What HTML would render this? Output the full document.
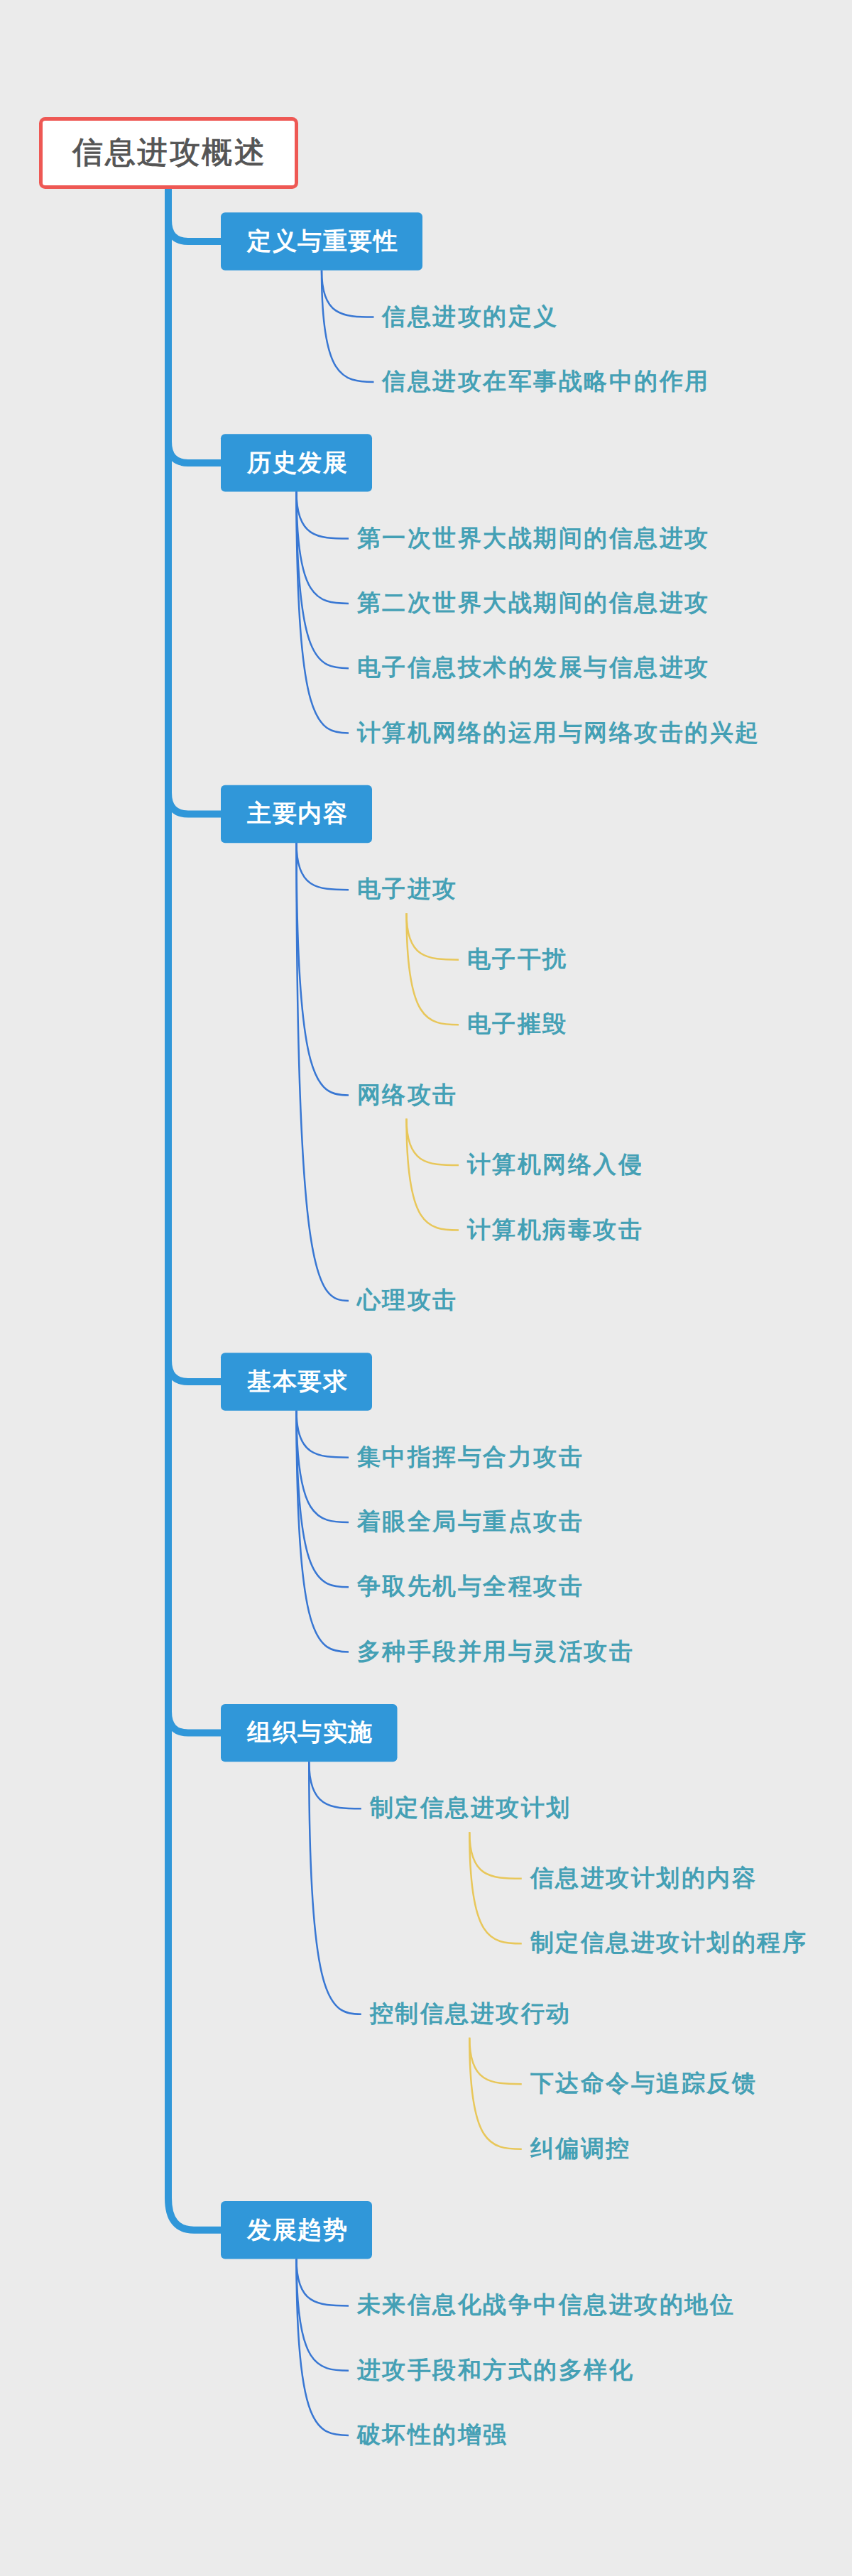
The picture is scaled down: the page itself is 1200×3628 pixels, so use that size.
<!DOCTYPE html>
<html><head><meta charset="utf-8"><style>
html,body{margin:0;padding:0;}
body{width:1200px;height:3628px;background:#ebebeb;position:relative;overflow:hidden;font-family:"Liberation Sans",sans-serif;}
svg{position:absolute;left:0;top:0;}
.t{position:absolute;white-space:nowrap;}
.c{text-align:center;}
</style></head><body>
<svg width="1200" height="3628" viewBox="0 0 1200 3628">
<path d="M237 266 L237 3095.7 Q237 3140.7 273 3140.7 L316 3140.7" stroke="#3097d9" stroke-width="10" fill="none"/>
<path d="M237 310 Q237 340 265 340 L316 340" stroke="#3097d9" stroke-width="10" fill="none"/>
<path d="M237 621.9 Q237 651.9 265 651.9 L316 651.9" stroke="#3097d9" stroke-width="10" fill="none"/>
<path d="M237 1116.5 Q237 1146.5 265 1146.5 L316 1146.5" stroke="#3097d9" stroke-width="10" fill="none"/>
<path d="M237 1916 Q237 1946 265 1946 L316 1946" stroke="#3097d9" stroke-width="10" fill="none"/>
<path d="M237 2410.6 Q237 2440.6 265 2440.6 L316 2440.6" stroke="#3097d9" stroke-width="10" fill="none"/>
<rect x="57.5" y="167.5" width="360" height="96" rx="6" fill="#fff" stroke="#ee5854" stroke-width="5"/>
<rect x="311" y="299.3" width="284.0" height="81.4" rx="6" fill="#3097d9"/>
<path d="M453.0 380.7 C453.0 443.96 481.67 446.6 526.5 446.6" stroke="#3877d3" stroke-width="2.5" fill="none"/>
<path d="M453.0 380.7 C453.0 531.61 481.67 537.9 526.5 537.9" stroke="#3877d3" stroke-width="2.5" fill="none"/>
<rect x="311" y="611.1999999999999" width="213.0" height="81.4" rx="6" fill="#3097d9"/>
<path d="M417.5 692.6 C417.5 755.96 446.17 758.6 491.0 758.6" stroke="#3877d3" stroke-width="2.5" fill="none"/>
<path d="M417.5 692.6 C417.5 843.61 446.17 849.9 491.0 849.9" stroke="#3877d3" stroke-width="2.5" fill="none"/>
<path d="M417.5 692.6 C417.5 931.26 446.17 941.2 491.0 941.2" stroke="#3877d3" stroke-width="2.5" fill="none"/>
<path d="M417.5 692.6 C417.5 1018.9 446.17 1032.5 491.0 1032.5" stroke="#3877d3" stroke-width="2.5" fill="none"/>
<rect x="311" y="1105.8" width="213.0" height="81.4" rx="6" fill="#3097d9"/>
<path d="M417.5 1187.2 C417.5 1250.56 446.17 1253.2 491.0 1253.2" stroke="#3877d3" stroke-width="2.5" fill="none"/>
<path d="M572.5 1286.2 C572.5 1349.08 601.16 1351.7 646.0 1351.7" stroke="#e8c75a" stroke-width="2.5" fill="none"/>
<path d="M572.5 1286.2 C572.5 1436.92 601.16 1443.2 646.0 1443.2" stroke="#e8c75a" stroke-width="2.5" fill="none"/>
<path d="M417.5 1187.2 C417.5 1528.38 446.17 1542.6 491.0 1542.6" stroke="#3877d3" stroke-width="2.5" fill="none"/>
<path d="M572.5 1575.6 C572.5 1638.48 601.16 1641.1 646.0 1641.1" stroke="#e8c75a" stroke-width="2.5" fill="none"/>
<path d="M572.5 1575.6 C572.5 1726.32 601.16 1732.6 646.0 1732.6" stroke="#e8c75a" stroke-width="2.5" fill="none"/>
<path d="M417.5 1187.2 C417.5 1806.21 446.17 1832.0 491.0 1832.0" stroke="#3877d3" stroke-width="2.5" fill="none"/>
<rect x="311" y="1905.3" width="213.0" height="81.4" rx="6" fill="#3097d9"/>
<path d="M417.5 1986.7 C417.5 2050.06 446.17 2052.7 491.0 2052.7" stroke="#3877d3" stroke-width="2.5" fill="none"/>
<path d="M417.5 1986.7 C417.5 2137.71 446.17 2144 491.0 2144" stroke="#3877d3" stroke-width="2.5" fill="none"/>
<path d="M417.5 1986.7 C417.5 2225.36 446.17 2235.3 491.0 2235.3" stroke="#3877d3" stroke-width="2.5" fill="none"/>
<path d="M417.5 1986.7 C417.5 2313.0 446.17 2326.6 491.0 2326.6" stroke="#3877d3" stroke-width="2.5" fill="none"/>
<rect x="311" y="2399.9" width="248.5" height="81.4" rx="6" fill="#3097d9"/>
<path d="M435.25 2481.3 C435.25 2544.66 463.92 2547.3 508.75 2547.3" stroke="#3877d3" stroke-width="2.5" fill="none"/>
<path d="M661.25 2580.3 C661.25 2643.18 689.91 2645.8 734.75 2645.8" stroke="#e8c75a" stroke-width="2.5" fill="none"/>
<path d="M661.25 2580.3 C661.25 2731.02 689.91 2737.3 734.75 2737.3" stroke="#e8c75a" stroke-width="2.5" fill="none"/>
<path d="M435.25 2481.3 C435.25 2822.48 463.92 2836.7 508.75 2836.7" stroke="#3877d3" stroke-width="2.5" fill="none"/>
<path d="M661.25 2869.7 C661.25 2932.58 689.91 2935.2 734.75 2935.2" stroke="#e8c75a" stroke-width="2.5" fill="none"/>
<path d="M661.25 2869.7 C661.25 3020.42 689.91 3026.7 734.75 3026.7" stroke="#e8c75a" stroke-width="2.5" fill="none"/>
<rect x="311" y="3100.0" width="213.0" height="81.4" rx="6" fill="#3097d9"/>
<path d="M417.5 3181.4 C417.5 3244.76 446.17 3247.4 491.0 3247.4" stroke="#3877d3" stroke-width="2.5" fill="none"/>
<path d="M417.5 3181.4 C417.5 3332.41 446.17 3338.7 491.0 3338.7" stroke="#3877d3" stroke-width="2.5" fill="none"/>
<path d="M417.5 3181.4 C417.5 3420.06 446.17 3430 491.0 3430" stroke="#3877d3" stroke-width="2.5" fill="none"/>
</svg>
<div class="t c" style="left:56.25px;top:164px;width:365px;height:101px;line-height:101px;font-size:43px;letter-spacing:2.5px;color:#555555;-webkit-text-stroke:1.0px #555555">信息进攻概述</div>
<div class="t c" style="left:312.75px;top:298.8px;width:284.0px;height:81.4px;line-height:81.4px;font-size:34px;letter-spacing:1.5px;color:#fff;font-weight:bold">定义与重要性</div>
<div class="t" style="left:538.3px;top:420.6px;height:50px;line-height:50px;font-size:33px;letter-spacing:2.5px;color:#44a0b5;font-weight:bold">信息进攻的定义</div>
<div class="t" style="left:538.3px;top:511.9px;height:50px;line-height:50px;font-size:33px;letter-spacing:2.5px;color:#44a0b5;font-weight:bold">信息进攻在军事战略中的作用</div>
<div class="t c" style="left:312.75px;top:610.6999999999999px;width:213.0px;height:81.4px;line-height:81.4px;font-size:34px;letter-spacing:1.5px;color:#fff;font-weight:bold">历史发展</div>
<div class="t" style="left:502.8px;top:732.6px;height:50px;line-height:50px;font-size:33px;letter-spacing:2.5px;color:#44a0b5;font-weight:bold">第一次世界大战期间的信息进攻</div>
<div class="t" style="left:502.8px;top:823.9px;height:50px;line-height:50px;font-size:33px;letter-spacing:2.5px;color:#44a0b5;font-weight:bold">第二次世界大战期间的信息进攻</div>
<div class="t" style="left:502.8px;top:915.2px;height:50px;line-height:50px;font-size:33px;letter-spacing:2.5px;color:#44a0b5;font-weight:bold">电子信息技术的发展与信息进攻</div>
<div class="t" style="left:502.8px;top:1006.5px;height:50px;line-height:50px;font-size:33px;letter-spacing:2.5px;color:#44a0b5;font-weight:bold">计算机网络的运用与网络攻击的兴起</div>
<div class="t c" style="left:312.75px;top:1105.3px;width:213.0px;height:81.4px;line-height:81.4px;font-size:34px;letter-spacing:1.5px;color:#fff;font-weight:bold">主要内容</div>
<div class="t" style="left:502.8px;top:1227.2px;height:50px;line-height:50px;font-size:33px;letter-spacing:2.5px;color:#44a0b5;font-weight:bold">电子进攻</div>
<div class="t" style="left:657.8px;top:1325.7px;height:50px;line-height:50px;font-size:33px;letter-spacing:2.5px;color:#44a0b5;font-weight:bold">电子干扰</div>
<div class="t" style="left:657.8px;top:1417.2px;height:50px;line-height:50px;font-size:33px;letter-spacing:2.5px;color:#44a0b5;font-weight:bold">电子摧毁</div>
<div class="t" style="left:502.8px;top:1516.6px;height:50px;line-height:50px;font-size:33px;letter-spacing:2.5px;color:#44a0b5;font-weight:bold">网络攻击</div>
<div class="t" style="left:657.8px;top:1615.1px;height:50px;line-height:50px;font-size:33px;letter-spacing:2.5px;color:#44a0b5;font-weight:bold">计算机网络入侵</div>
<div class="t" style="left:657.8px;top:1706.6px;height:50px;line-height:50px;font-size:33px;letter-spacing:2.5px;color:#44a0b5;font-weight:bold">计算机病毒攻击</div>
<div class="t" style="left:502.8px;top:1806.0px;height:50px;line-height:50px;font-size:33px;letter-spacing:2.5px;color:#44a0b5;font-weight:bold">心理攻击</div>
<div class="t c" style="left:312.75px;top:1904.8px;width:213.0px;height:81.4px;line-height:81.4px;font-size:34px;letter-spacing:1.5px;color:#fff;font-weight:bold">基本要求</div>
<div class="t" style="left:502.8px;top:2026.6999999999998px;height:50px;line-height:50px;font-size:33px;letter-spacing:2.5px;color:#44a0b5;font-weight:bold">集中指挥与合力攻击</div>
<div class="t" style="left:502.8px;top:2118.0px;height:50px;line-height:50px;font-size:33px;letter-spacing:2.5px;color:#44a0b5;font-weight:bold">着眼全局与重点攻击</div>
<div class="t" style="left:502.8px;top:2209.3px;height:50px;line-height:50px;font-size:33px;letter-spacing:2.5px;color:#44a0b5;font-weight:bold">争取先机与全程攻击</div>
<div class="t" style="left:502.8px;top:2300.6px;height:50px;line-height:50px;font-size:33px;letter-spacing:2.5px;color:#44a0b5;font-weight:bold">多种手段并用与灵活攻击</div>
<div class="t c" style="left:312.75px;top:2399.4px;width:248.5px;height:81.4px;line-height:81.4px;font-size:34px;letter-spacing:1.5px;color:#fff;font-weight:bold">组织与实施</div>
<div class="t" style="left:520.55px;top:2521.3px;height:50px;line-height:50px;font-size:33px;letter-spacing:2.5px;color:#44a0b5;font-weight:bold">制定信息进攻计划</div>
<div class="t" style="left:746.55px;top:2619.8px;height:50px;line-height:50px;font-size:33px;letter-spacing:2.5px;color:#44a0b5;font-weight:bold">信息进攻计划的内容</div>
<div class="t" style="left:746.55px;top:2711.3px;height:50px;line-height:50px;font-size:33px;letter-spacing:2.5px;color:#44a0b5;font-weight:bold">制定信息进攻计划的程序</div>
<div class="t" style="left:520.55px;top:2810.7px;height:50px;line-height:50px;font-size:33px;letter-spacing:2.5px;color:#44a0b5;font-weight:bold">控制信息进攻行动</div>
<div class="t" style="left:746.55px;top:2909.2px;height:50px;line-height:50px;font-size:33px;letter-spacing:2.5px;color:#44a0b5;font-weight:bold">下达命令与追踪反馈</div>
<div class="t" style="left:746.55px;top:3000.7px;height:50px;line-height:50px;font-size:33px;letter-spacing:2.5px;color:#44a0b5;font-weight:bold">纠偏调控</div>
<div class="t c" style="left:312.75px;top:3099.5px;width:213.0px;height:81.4px;line-height:81.4px;font-size:34px;letter-spacing:1.5px;color:#fff;font-weight:bold">发展趋势</div>
<div class="t" style="left:502.8px;top:3221.4px;height:50px;line-height:50px;font-size:33px;letter-spacing:2.5px;color:#44a0b5;font-weight:bold">未来信息化战争中信息进攻的地位</div>
<div class="t" style="left:502.8px;top:3312.7px;height:50px;line-height:50px;font-size:33px;letter-spacing:2.5px;color:#44a0b5;font-weight:bold">进攻手段和方式的多样化</div>
<div class="t" style="left:502.8px;top:3404.0px;height:50px;line-height:50px;font-size:33px;letter-spacing:2.5px;color:#44a0b5;font-weight:bold">破坏性的增强</div>
</body></html>
